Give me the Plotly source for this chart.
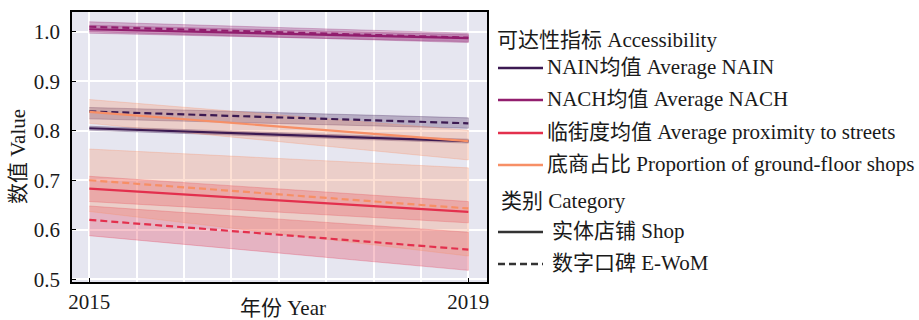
import plotly.graph_objects as go

# Regression lines (2015 -> 2019) with confidence bands
years = [2015, 2019]

indicators = ["NAIN", "NACH", "Proximity", "Proportion"]
indicator_labels = [
    "NAIN均值 Average NAIN",
    "NACH均值 Average NACH",
    "临街度均值 Average proximity to streets",
    "底商占比 Proportion of ground-floor shops",
]
indicator_colors = ["#3c1a52", "#921e6e", "#e3304d", "#f78f66"]

categories = ["Shop", "E-WoM"]
category_labels = ["实体店铺 Shop", "数字口碑 E-WoM"]

# fitted values
nain_shop = [0.805, 0.779]
nain_ewom = [0.839, 0.815]
nach_shop = [1.005, 0.987]
nach_ewom = [1.010, 0.988]
prox_shop = [0.683, 0.636]
prox_ewom = [0.620, 0.560]
prop_shop = [0.838, 0.779]
prop_ewom = [0.700, 0.643]

# confidence band limits
nain_shop_lo, nain_shop_hi = [0.801, 0.775], [0.809, 0.783]
nain_ewom_lo, nain_ewom_hi = [0.824, 0.805], [0.847, 0.826]
nach_shop_lo, nach_shop_hi = [0.997, 0.980], [1.013, 0.994]
nach_ewom_lo, nach_ewom_hi = [1.000, 0.978], [1.020, 0.997]
prox_shop_lo, prox_shop_hi = [0.657, 0.614], [0.708, 0.657]
prox_ewom_lo, prox_ewom_hi = [0.588, 0.518], [0.648, 0.595]
prop_shop_lo, prop_shop_hi = [0.815, 0.741], [0.863, 0.801]
prop_ewom_lo, prop_ewom_hi = [0.637, 0.547], [0.763, 0.725]

series = [
    ("NAIN", "Shop", nain_shop, nain_shop_lo, nain_shop_hi),
    ("NAIN", "E-WoM", nain_ewom, nain_ewom_lo, nain_ewom_hi),
    ("NACH", "Shop", nach_shop, nach_shop_lo, nach_shop_hi),
    ("NACH", "E-WoM", nach_ewom, nach_ewom_lo, nach_ewom_hi),
    ("Proximity", "Shop", prox_shop, prox_shop_lo, prox_shop_hi),
    ("Proximity", "E-WoM", prox_ewom, prox_ewom_lo, prox_ewom_hi),
    ("Proportion", "Shop", prop_shop, prop_shop_lo, prop_shop_hi),
    ("Proportion", "E-WoM", prop_ewom, prop_ewom_lo, prop_ewom_hi),
]

FONT = "Liberation Serif, 'Times New Roman', 'Noto Sans CJK SC', serif"
DASH = "7px,4px"

W, H = 919, 320
ML, MR, MT, MB = 72, 432, 12, 38
PW, PH = W - ML - MR, H - MT - MB


def px_x(px):
    return (px - ML) / PW


def px_y(py):
    return (H - MB - py) / PH


def rgba(hex_color, a):
    h = hex_color.lstrip("#")
    r, g, b = int(h[0:2], 16), int(h[2:4], 16), int(h[4:6], 16)
    return f"rgba({r},{g},{b},{a})"


fig = go.Figure()

# bands first
for ind, cat, vals, lo, hi in series:
    col = indicator_colors[indicators.index(ind)]
    fig.add_trace(go.Scatter(
        x=years + years[::-1], y=hi + lo[::-1], fill="toself",
        fillcolor=rgba(col, 0.28), line=dict(color=rgba(col, 0.35), width=0.8),
        mode="lines", showlegend=False, hoverinfo="skip"))

# fitted lines
for ind, cat, vals, lo, hi in series:
    col = indicator_colors[indicators.index(ind)]
    fig.add_trace(go.Scatter(
        x=years, y=vals, mode="lines",
        line=dict(color=col, width=2.2, dash="solid" if cat == "Shop" else DASH),
        showlegend=False))

# legend, drawn to the right of the axes
shapes = []
annotations = []


def legend_title(text, left, cy):
    annotations.append(dict(
        text=text, xref="paper", yref="paper", x=px_x(left), y=px_y(cy),
        xanchor="left", yanchor="middle", showarrow=False,
        font=dict(family=FONT, size=21, color="#1a1a1a")))


def legend_item(text, color, dash, cy, text_left):
    shapes.append(dict(
        type="line", xref="paper", yref="paper",
        x0=px_x(498), x1=px_x(543), y0=px_y(cy), y1=px_y(cy),
        line=dict(color=color, width=2.6, dash=dash)))
    annotations.append(dict(
        text=text, xref="paper", yref="paper", x=px_x(text_left), y=px_y(cy - 1),
        xanchor="left", yanchor="middle", showarrow=False,
        font=dict(family=FONT, size=21, color="#1a1a1a")))


legend_title("可达性指标 Accessibility", 495, 40)
for i, lab in enumerate(indicator_labels):
    legend_item(lab, indicator_colors[i], "solid", [68, 100, 133, 165][i], 545)
legend_title("类别 Category", 499, 201)
legend_item(category_labels[0], "#333333", "solid", 232, 550)
legend_item(category_labels[1], "#333333", DASH, 264, 550)

# axis titles
annotations.append(dict(
    text="年份 Year", xref="paper", yref="paper", x=px_x(283), y=px_y(308),
    xanchor="center", yanchor="middle", showarrow=False,
    font=dict(family=FONT, size=21, color="#1a1a1a")))
annotations.append(dict(
    text="数值 Value", xref="paper", yref="paper", x=px_x(18), y=px_y(157),
    xanchor="center", yanchor="middle", showarrow=False, textangle=-90,
    font=dict(family=FONT, size=21, color="#1a1a1a")))

fig.update_layout(
    width=W, height=H,
    margin=dict(l=ML, r=MR, t=MT, b=MB, autoexpand=False),
    paper_bgcolor="white",
    plot_bgcolor="#e6e6f0",
    font=dict(family=FONT, size=21, color="#1a1a1a"),
    showlegend=False,
    xaxis=dict(
        range=[2014.817, 2019.197],
        tickvals=[2015, 2019], ticktext=["2015", "2019"],
        ticks="inside", ticklen=4, tickcolor="black", tickwidth=1.2,
        ticklabelstandoff=0,
        showgrid=True, gridcolor="white", gridwidth=1.5,
        minor=dict(tick0=2015, dtick=0.5, showgrid=True, gridcolor="white", gridwidth=1.5, ticks=""),
        showline=True, mirror=True, linecolor="black", linewidth=1.5,
        zeroline=False, tickfont=dict(size=21),
    ),
    yaxis=dict(
        range=[0.4945, 1.0398],
        tickvals=[0.5, 0.6, 0.7, 0.8, 0.9, 1.0],
        ticktext=["0.5", "0.6", "0.7", "0.8", "0.9", "1.0"],
        ticks="inside", ticklen=4, tickcolor="black", tickwidth=1.2,
        ticklabelstandoff=6,
        showgrid=True, gridcolor="white", gridwidth=1.5,
        showline=True, mirror=True, linecolor="black", linewidth=1.5,
        zeroline=False, tickfont=dict(size=21),
    ),
    shapes=shapes,
    annotations=annotations,
)

fig.write_html("out.html")
